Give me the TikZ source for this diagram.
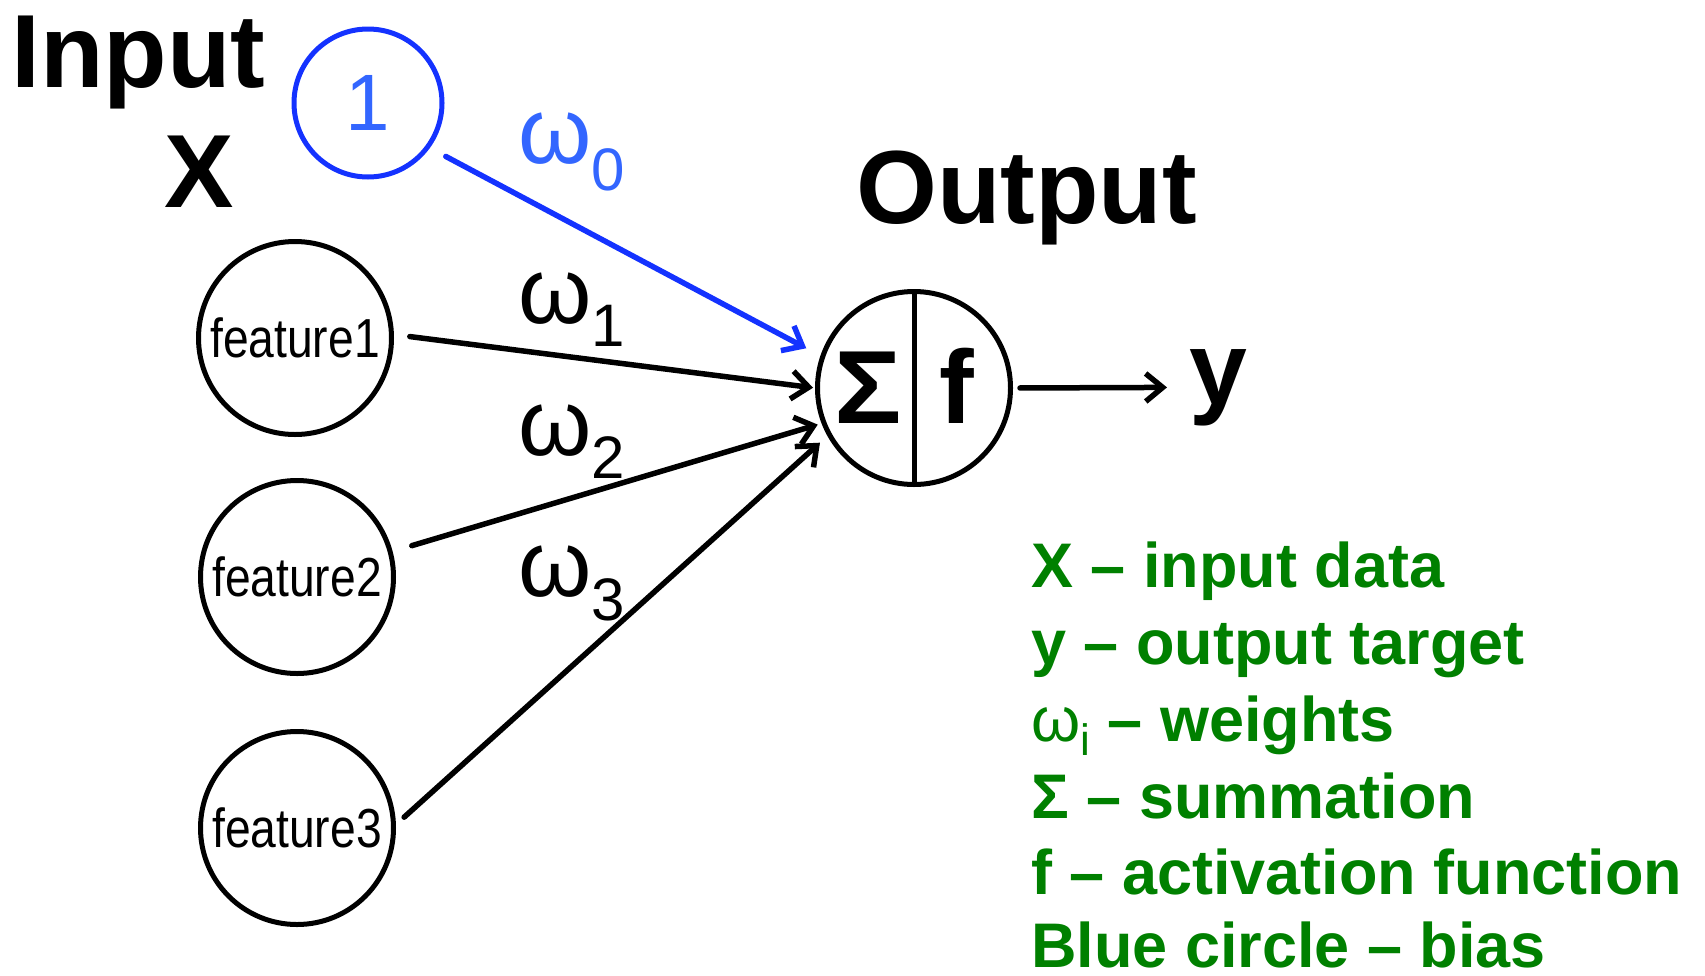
\documentclass[tikz,border=0pt]{standalone}
\usepackage{fontspec}
\setmainfont{Liberation Sans}
\usetikzlibrary{arrows.meta}
\definecolor{biasblue}{RGB}{20,50,255}
\definecolor{wblue}{RGB}{51,102,255}
\definecolor{legendgreen}{RGB}{0,128,0}
\newcommand{\fsz}[1]{\fontsize{#1}{#1}\selectfont}
\begin{document}
\begin{tikzpicture}[x=1pt,y=-1pt,
  neuron/.style={draw,circle,line width=5pt,minimum size=193pt,inner sep=0pt},
  arr/.style={line width=5.5pt,line cap=round,-{Straight Barb[length=17pt,width=28pt]}},
  title/.style={font=\fsz{104}\bfseries,inner sep=0pt},
  wlab/.style={inner sep=0pt,anchor=base west},
  leg/.style={inner sep=0pt,anchor=base west,text=legendgreen,font=\fsz{63}\bfseries}]

\useasboundingbox (0,0) rectangle (1705,975);

% input nodes
\node[neuron,font=\fsz{55}] (f1) at (295,338) {\scalebox{0.84}[1]{feature1}};
\node[neuron,font=\fsz{55}] (f2) at (297,577) {\scalebox{0.84}[1]{feature2}};
\node[neuron,font=\fsz{55}] (f3) at (297,828) {\scalebox{0.84}[1]{feature3}};
\node[neuron,draw=biasblue,minimum size=148pt,text=wblue,font=\fsz{80}] (b) at (368,103) {1};

% output neuron
\node[neuron] (out) at (914,388) {};
\draw[line width=5pt] (out.north) -- (out.south);
\node[title,anchor=base] (sig) at (868,423) {\scalebox{1.08}[1]{Σ}};
\node[title,anchor=base] (fn) at (957,423) {f};

% titles
\node[title,anchor=base west] (inp) at (11,87) {Input};
\node[title,anchor=base] (xl) at (199,207) {X};
\node[title,anchor=base west] (outl) at (856,223) {Output};
\node[title,anchor=base west] (yl) at (1189,404) {y};

% connectors
\draw[arr,draw=biasblue] (b.-36) -- (out.161.6) [shorten <=18pt,shorten >=16pt];
\draw[arr] (f1.2) -- (out.180) [shorten <=16pt,shorten >=2pt];
\draw[arr] (f2.15.5) -- (out.201) [shorten <=20pt,shorten >=4pt];
\draw[arr] (f3.2) -- (out.209) [shorten <=11pt,shorten >=10pt];
\draw[arr] (out.east) -- (yl.west) [shorten <=7pt,shorten >=22pt];

% weight labels
\node[wlab,text=wblue] (w0) at (518,163) {\fsz{94}ω\raisebox{-27pt}{\fsz{60}0}};
\node[wlab] (w1) at (518,323) {\fsz{94}ω\raisebox{-23pt}{\fsz{60}1}};
\node[wlab] (w2) at (518,455) {\fsz{94}ω\raisebox{-23pt}{\fsz{60}2}};
\node[wlab] (w3) at (518,596) {\fsz{94}ω\raisebox{-24pt}{\fsz{60}3}};

% legend
\node[leg] (l1) at (1031,587) {X – input data};
\node[leg] (l2) at (1031,664) {y – output target};
\node[leg] (l3) at (1031,741) {{\mdseries ω\raisebox{-14pt}{\fsz{44}i}} – weights};
\node[leg] (l4) at (1031,818) {Σ – summation};
\node[leg] (l5) at (1031,894) {f – activation function};
\node[leg] (l6) at (1031,967) {Blue circle – bias};
\end{tikzpicture}
\end{document}
